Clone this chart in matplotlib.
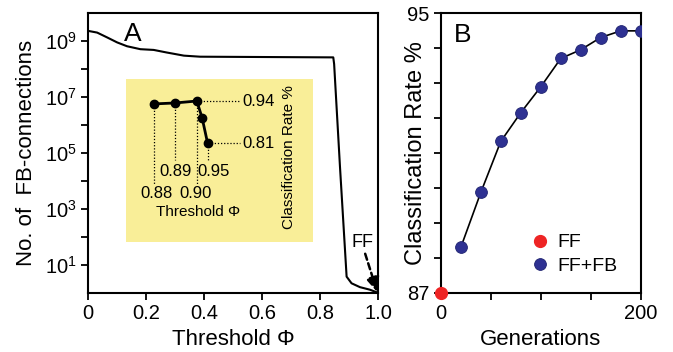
import numpy as np
import matplotlib
matplotlib.use('Agg')
import matplotlib.pyplot as plt

plt.rcParams['font.family'] = ['Liberation Sans', 'DejaVu Sans']
plt.rcParams['mathtext.fontset'] = 'custom'
plt.rcParams['mathtext.rm'] = 'Liberation Sans'
plt.rcParams['mathtext.it'] = 'Liberation Sans'

# panel A: number of feedback connections vs threshold
thresh = [0.0, 0.031, 0.065, 0.10, 0.134, 0.18, 0.226, 0.27, 0.33, 0.386,
          0.845, 0.848, 0.868, 0.891, 0.908, 0.937, 0.971, 1.0]
n_fb = [2.3e9, 2.0e9, 1.35e9, 8.9e8, 6.5e8, 5.1e8, 4.8e8, 3.9e8, 3.0e8, 2.75e8,
        2.6e8, 1.5e8, 3.4e4, 3.8, 2.2, 1.6, 1.3, 1.0]

# inset: classification rate for a few thresholds (schematic x positions)
inset_pos = [0.0, 1.0, 2.0, 2.25, 2.5]
inset_rate = [0.931, 0.934, 0.94, 0.887, 0.81]

# panel B: classification rate vs generations
gens = [20, 40, 60, 80, 100, 120, 140, 160, 180, 200]
rate_fb = [88.3, 89.87, 91.33, 92.15, 92.89, 93.7, 93.95, 94.3, 94.49, 94.49]
gen_ff = [0]
rate_ff = [87.0]

blue = '#2e3192'
red = '#ee2424'

fig = plt.figure(figsize=(6.73, 3.52), dpi=100)
axA = fig.add_axes([0.131, 0.168, 0.431, 0.795])
axB = fig.add_axes([0.655, 0.168, 0.297, 0.795])

for ax in (axA, axB):
    for s in ax.spines.values():
        s.set_linewidth(1.5)
    ax.tick_params(direction='out', length=5, width=1.3, labelsize=14.5, pad=3)
    ax.tick_params(which='minor', direction='out', length=5, width=1.3)

# ---- A
axA.plot(thresh, n_fb, color='k', lw=1.5)
axA.set_yscale('log')
axA.set_xlim(0, 1)
axA.set_ylim(1, 1e10)
axA.set_xticks([0, 0.2, 0.4, 0.6, 0.8, 1.0])
axA.set_xticklabels(['0', '0.2', '0.4', '0.6', '0.8', '1.0'])
axA.set_yticks([1e1, 1e3, 1e5, 1e7, 1e9])
axA.set_yticklabels([r'$\mathregular{10^{%d}}$' % e for e in (1, 3, 5, 7, 9)])
axA.yaxis.set_minor_locator(matplotlib.ticker.FixedLocator([1e2, 1e4, 1e6, 1e8]))
axA.yaxis.set_minor_formatter(matplotlib.ticker.NullFormatter())
axA.set_xlabel('Threshold Φ', fontsize=16, labelpad=4)
axA.set_ylabel('No. of  FB-connections', fontsize=16)
axA.yaxis.set_label_coords(-0.175, 0.5)
axA.text(0.155, 0.925, 'A', transform=axA.transAxes, fontsize=19, ha='center', va='center')
axA.text(0.945, 62, 'FF', fontsize=13, ha='center', va='center')
axA.annotate('', xy=(0.997, 1.05), xytext=(0.955, 25),
             arrowprops=dict(arrowstyle='-|>,head_length=0.9,head_width=0.4',
                             linestyle=(0, (2.5, 1.5)), lw=1.8, color='k',
                             shrinkA=0, shrinkB=0),
             annotation_clip=False, zorder=5)

# ---- inset
axI = fig.add_axes([0.187, 0.3125, 0.278, 0.463])
axI.set_facecolor('#f9ee98')
for s in axI.spines.values():
    s.set_visible(False)
axI.set_xticks([])
axI.set_yticks([])
axI.set_xlim(-1.30, 7.40)
axI.set_ylim(0.504, 1.008)
axI.plot(inset_pos, inset_rate, color='k', lw=2, marker='o', ms=6)
dot = dict(color='k', lw=0.9, ls=(0, (1, 1.5)))
axI.plot([inset_pos[2], 4.0], [inset_rate[2]] * 2, **dot)
axI.plot([inset_pos[4], 4.0], [inset_rate[4]] * 2, **dot)
axI.text(4.14, inset_rate[2], '0.94', fontsize=12, va='center', ha='left')
axI.text(4.14, inset_rate[4], '0.81', fontsize=12, va='center', ha='left')
axI.plot([inset_pos[0]] * 2, [inset_rate[0], 0.680], **dot)
axI.plot([inset_pos[1]] * 2, [inset_rate[1], 0.757], **dot)
axI.plot([inset_pos[2]] * 2, [inset_rate[2], 0.680], **dot)
axI.plot([inset_pos[4]] * 2, [inset_rate[4], 0.757], **dot)
axI.text(0.14, 0.655, '0.88', fontsize=12, ha='center', va='center')
axI.text(1.0, 0.723, '0.89', fontsize=12, ha='center', va='center')
axI.text(1.95, 0.655, '0.90', fontsize=12, ha='center', va='center')
axI.text(2.79, 0.723, '0.95', fontsize=12, ha='center', va='center')
axI.text(2.05, 0.596, 'Threshold Φ', fontsize=11, ha='center', va='center')
axI.text(6.28, 0.767, 'Classification Rate %', fontsize=11, rotation=90,
         ha='center', va='center')

# ---- B
axB.plot(gens, rate_fb, color='k', lw=1.2, zorder=2)
axB.plot(gens, rate_fb, ls='none', marker='o', ms=8.5, color=blue,
         mec='#1f2370', mew=0.6, label='FF+FB', zorder=3)
axB.plot(gen_ff, rate_ff, ls='none', marker='o', ms=8.5, color=red,
         mec=red, label='FF', clip_on=False, zorder=4)
axB.set_xlim(0, 200)
axB.set_ylim(87, 95)
axB.set_xticks([0, 50, 100, 150, 200])
axB.set_xticklabels(['0', '', '', '', '200'])
axB.set_yticks(range(87, 96))
axB.set_yticklabels(['87'] + [''] * 7 + ['95'])
axB.set_xlabel('Generations', fontsize=16, labelpad=4)
axB.set_ylabel('Classification Rate %', fontsize=17)
axB.yaxis.set_label_coords(-0.068, 0.5)
axB.text(0.11, 0.92, 'B', transform=axB.transAxes, fontsize=19, ha='center', va='center')
h, l = axB.get_legend_handles_labels()
axB.legend(h[::-1], l[::-1], loc='center left', bbox_to_anchor=(0.45, 0.1375),
           frameon=False, fontsize=14, handlelength=1.0, handletextpad=0.35,
           labelspacing=0.3, borderpad=0, borderaxespad=0)

fig.savefig('out.png', dpi=100)
